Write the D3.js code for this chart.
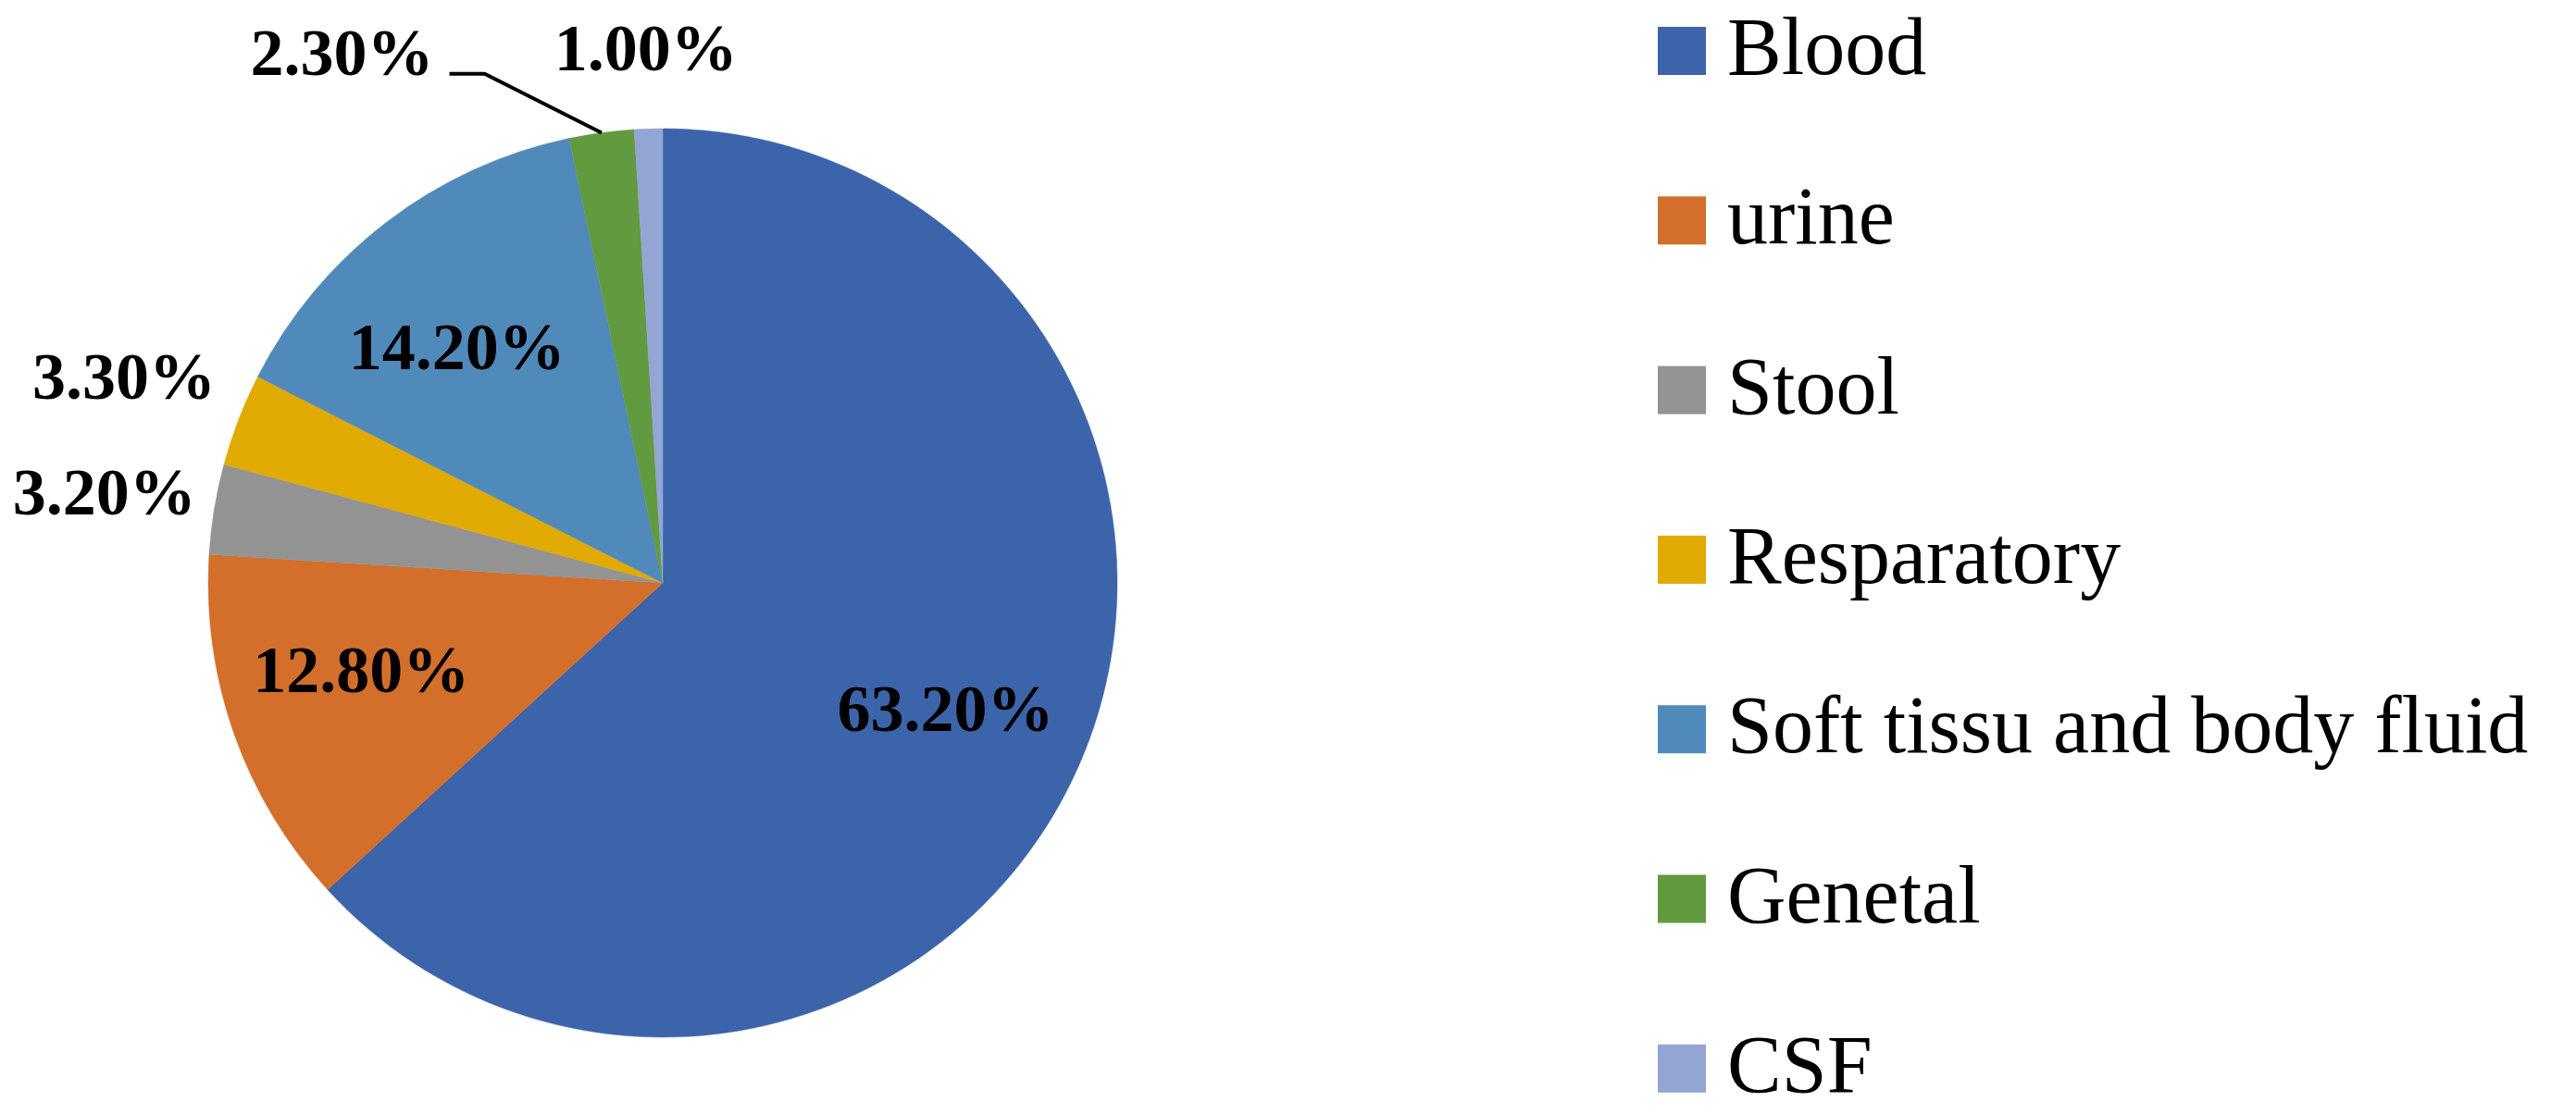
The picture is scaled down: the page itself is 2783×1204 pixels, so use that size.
<!DOCTYPE html>
<html>
<head>
<meta charset="utf-8">
<script src="https://cdn.jsdelivr.net/npm/d3@7"></script>
<style>
  html, body { margin: 0; padding: 0; background: #ffffff; }
  svg { display: block; }
</style>
</head>
<body>
<svg id="chart" width="2783" height="1204"></svg>
<script>
// ---- data ----
const categories = ["Blood", "urine", "Stool", "Resparatory", "Soft tissu and body fluid", "Genetal", "CSF"];
const values = [63.2, 12.8, 3.2, 3.3, 14.2, 2.3, 1.0];
const labels = ["63.20%", "12.80%", "3.20%", "3.30%", "14.20%", "2.30%", "1.00%"];
const colors = ["#3C64AB", "#D36F2B", "#939393", "#E1AA00", "#508ABB", "#629A3F", "#92A5D3"];

// ---- layout ----
const W = 2783, H = 1204;
const cx = 716, cy = 630, R = 491;
const svg = d3.select("#chart");
svg.append("rect").attr("width", W).attr("height", H).attr("fill", "#fff");

const data = categories.map((c, i) => ({ cat: c, value: values[i], label: labels[i], color: colors[i] }));

const pie = d3.pie().value(d => d.value).sort(null).startAngle(0).endAngle(2 * Math.PI);
const arcs = pie(data);
const arc = d3.arc().innerRadius(0).outerRadius(R);

const g = svg.append("g").attr("transform", `translate(${cx},${cy})`);
g.selectAll("path.slice")
  .data(arcs)
  .enter().append("path")
  .attr("class", "slice")
  .attr("d", arc)
  .attr("fill", d => d.data.color)
  .attr("stroke", d => d.data.color)
  .attr("stroke-width", 0.5);

// label placement: radius factor & optional angle override (degrees)
const labelPlace = {
  "Blood": { rf: 0.68 },
  "urine": { rf: 0.69, angle: 254 },
  "Stool": { rf: 1.245 },
  "Resparatory": { rf: 1.27 },
  "Soft tissu and body fluid": { rf: 0.69, angle: 319 },
  "Genetal": { rf: 1.366, angle: 328.9, leader: true },
  "CSF": { rf: 1.18 }
};

const labelFont = "'Liberation Serif', 'Times New Roman', serif";
const lg = svg.append("g").attr("transform", `translate(${cx},${cy})`);

arcs.forEach(a => {
  const p = labelPlace[a.data.cat];
  const mid = (a.startAngle + a.endAngle) / 2;
  const ang = p.angle !== undefined ? p.angle * Math.PI / 180 : mid;
  const lr = R * p.rf;
  const la = d3.arc().innerRadius(lr).outerRadius(lr).startAngle(ang).endAngle(ang);
  const [x, y] = la.centroid();
  const t = lg.append("text")
    .attr("x", x)
    .attr("y", y + 25)
    .attr("text-anchor", "middle")
    .attr("font-family", labelFont)
    .attr("font-weight", "bold")
    .attr("font-size", 72)
    .attr("fill", "#000")
    .text(a.data.label);
  if (p.leader) {
    const bb = t.node().getBBox();
    const edge = d3.arc().innerRadius(R).outerRadius(R).startAngle(mid).endAngle(mid).centroid();
    const ly = y + 24;
    const x0 = bb.x + bb.width + 17;
    const x1 = x0 + 38;
    lg.append("polyline")
      .attr("points", `${x0},${ly} ${x1},${ly} ${edge[0]},${edge[1]}`)
      .attr("fill", "none")
      .attr("stroke", "#000")
      .attr("stroke-width", 4);
  }
});

// ---- legend ----
const legX = 1791, legY0 = 55, legStep = 183.3, sw = 52;
const leg = svg.append("g");
const items = leg.selectAll("g.item")
  .data(data)
  .enter().append("g")
  .attr("class", "item")
  .attr("transform", (d, i) => `translate(${legX},${legY0 + i * legStep})`);
items.append("rect")
  .attr("x", 0).attr("y", -sw / 2)
  .attr("width", sw).attr("height", sw)
  .attr("fill", d => d.color);
items.append("text")
  .attr("x", 75).attr("y", 25)
  .attr("font-family", labelFont)
  .attr("font-size", 88)
  .attr("fill", "#000")
  .text(d => d.cat);
</script>
</body>
</html>
